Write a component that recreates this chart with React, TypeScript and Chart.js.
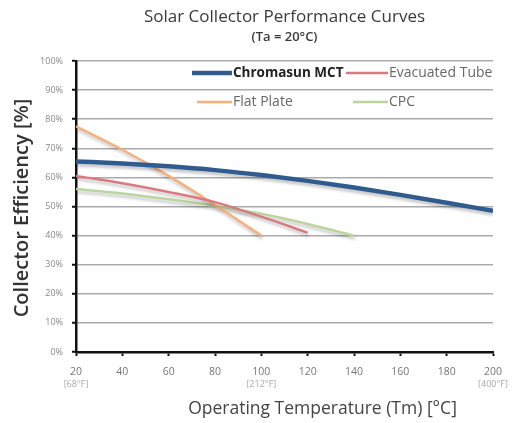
import React, { useEffect, useRef } from "react";
import { Chart, registerables } from "chart.js";

Chart.register(...registerables);

const temperatures = [20, 40, 60, 80, 100, 120, 140, 160, 180, 200];
const seriesLabels = ["Chromasun MCT", "Evacuated Tube", "Flat Plate", "CPC"];
const mctEff = [65.5, 64.8, 63.8, 62.5, 60.8, 58.8, 56.5, 54, 51.3, 48.5];
const evacuatedEff = [60.5, 58, 55, 51.5, 46.5, 41];
const flatPlateEff = [77.5, 69.5, 60.5, 50.5, 40];
const cpcEff = [56, 54.5, 52.5, 50.2, 47.5, 44, 40];
const seriesColors = ["#2f5b8f", "#d97a80", "#f5b07c", "#bcd59e"];
const seriesWidths = [4.5, 2.5, 2.5, 2.5];
const fahrenheitLabels: [number, string][] = [
  [20, "[68°F]"],
  [100, "[212°F]"],
  [200, "[400°F]"],
];

const titleText = "Solar Collector Performance Curves";
const subtitleText = "(Ta = 20°C)";
const xTitle = "Operating Temperature (Tm) [°C]";
const yTitle = "Collector Efficiency [%]";

const FONT = "'Open Sans', 'DejaVu Sans', sans-serif";

const toPoints = (vals: number[]) => vals.map((v, i) => ({ x: temperatures[i], y: v }));

const extrasPlugin = {
  id: "extras",
  beforeDatasetsDraw(chart: any) {
    const ctx = chart.ctx;
    ctx.save();
    ctx.shadowColor = "rgba(0,0,0,0.22)";
    ctx.shadowBlur = 3;
    ctx.shadowOffsetX = 1;
    ctx.shadowOffsetY = 3;
  },
  afterDatasetsDraw(chart: any) {
    chart.ctx.restore();
  },
  afterDraw(chart: any) {
    const ctx = chart.ctx;
    const area = chart.chartArea;
    const xs = chart.scales.x;
    const cx = (area.left + area.right) / 2;
    ctx.save();
    ctx.textAlign = "center";
    ctx.textBaseline = "middle";
    ctx.fillStyle = "#3a3a3a";
    ctx.font = `500 17px ${FONT}`;
    ctx.fillText(titleText, cx, 17);
    ctx.font = `600 13px ${FONT}`;
    ctx.fillText(subtitleText, cx, 37);

    ctx.font = `17.5px ${FONT}`;
    ctx.fillStyle = "#444";
    ctx.fillText(xTitle, cx + 38, 409);

    ctx.save();
    ctx.translate(22, 208);
    ctx.rotate(-Math.PI / 2);
    ctx.font = `600 20px ${FONT}`;
    ctx.fillStyle = "#333";
    ctx.fillText(yTitle, 0, 0);
    ctx.restore();

    ctx.font = `9px ${FONT}`;
    ctx.fillStyle = "#aaa";
    fahrenheitLabels.forEach(([t, s]) => {
      ctx.fillText(s, xs.getPixelForValue(t), 384);
    });

    // legend
    const items = [
      { i: 0, x0: area.left + 116, x1: area.left + 156, y: 73, bold: true },
      { i: 1, x0: area.left + 270, x1: area.left + 312, y: 73, bold: false },
      { i: 2, x0: area.left + 121, x1: area.left + 156, y: 102, bold: false },
      { i: 3, x0: area.left + 277, x1: area.left + 312, y: 102, bold: false },
    ];
    ctx.textAlign = "left";
    items.forEach((it) => {
      ctx.strokeStyle = seriesColors[it.i];
      ctx.lineWidth = seriesWidths[it.i];
      ctx.beginPath();
      ctx.moveTo(it.x0, it.y);
      ctx.lineTo(it.x1, it.y);
      ctx.stroke();
      ctx.font = it.bold ? `bold 13.5px ${FONT}` : `14px ${FONT}`;
      ctx.fillStyle = it.bold ? "#222" : "#666";
      ctx.fillText(seriesLabels[it.i], it.x1 + 1, it.y);
    });
    ctx.restore();
  },
};

export default function App() {
  const ref = useRef<HTMLCanvasElement>(null);
  useEffect(() => {
    document.body.style.margin = "0";
    const data = [mctEff, evacuatedEff, flatPlateEff, cpcEff];
    const chart = new Chart(ref.current as HTMLCanvasElement, {
      type: "line",
      data: {
        datasets: data.map((vals, i) => ({
          label: seriesLabels[i],
          data: toPoints(vals),
          borderColor: seriesColors[i],
          borderWidth: seriesWidths[i],
          pointRadius: 0,
          fill: false,
          cubicInterpolationMode: "monotone" as const,
        })),
      },
      options: {
        responsive: false,
        animation: false,
        layout: { padding: { left: 0, right: 27, top: 61, bottom: 0 } },
        plugins: {
          legend: { display: false },
          title: { display: false },
          tooltip: { enabled: false },
        },
        scales: {
          x: {
            type: "linear",
            min: 20,
            max: 200,
            afterFit: (s: any) => {
              s.height = 71;
            },
            ticks: {
              stepSize: 20,
              padding: 10,
              color: "#777",
              font: { family: FONT, size: 10.5 },
            },
            grid: {
              drawOnChartArea: false,
              drawTicks: true,
              tickLength: 4,
              tickColor: "#111",
              tickWidth: 2,
            },
            border: { color: "#111", width: 2.5 },
          },
          y: {
            min: 0,
            max: 100,
            afterFit: (s: any) => {
              s.width = 76;
            },
            ticks: {
              stepSize: 10,
              padding: 9,
              color: "#888",
              font: { family: FONT, size: 9 },
              callback: (v: any) => v + "%",
            },
            grid: {
              color: "#aaa",
              lineWidth: 1.5,
              tickLength: 4,
              tickColor: "#111",
              tickWidth: 2,
            },
            border: { color: "#111", width: 2.5 },
          },
        },
      },
      plugins: [extrasPlugin],
    });
    return () => chart.destroy();
  }, []);
  return (
    <div style={{ width: 520, height: 423 }}>
      <canvas ref={ref} width={520} height={423} style={{ display: "block" }} />
    </div>
  );
}
